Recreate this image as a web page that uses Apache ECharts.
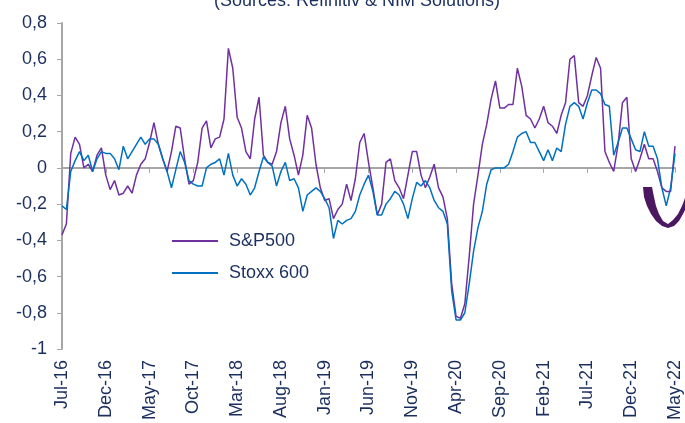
<!DOCTYPE html>
<html><head><meta charset="utf-8">
<script src="https://cdn.jsdelivr.net/npm/echarts@6/dist/echarts.min.js"></script>
<style>html,body{margin:0;padding:0;background:#fff}#c{width:685px;height:423px}</style>
</head><body><div id="c"></div>
<script>
const tickLabels = ['Jul-16','Dec-16','May-17','Oct-17','Mar-18','Aug-18','Jan-19','Jun-19','Nov-19','Apr-20','Sep-20','Feb-21','Jul-21','Dec-21','May-22'];
// half-monthly readings from Jul-16 (month 0) to May-22 (month 70)
const spx = [
-0.37,-0.31,0.08,0.17,0.13,0.00,0.02,-0.02,0.07,0.11,
-0.04,-0.12,-0.07,-0.15,-0.14,-0.10,-0.14,-0.04,0.02,0.05,
0.14,0.25,0.13,0.05,-0.02,0.09,0.23,0.22,0.05,-0.09,
-0.07,0.03,0.22,0.26,0.11,0.16,0.17,0.27,0.66,0.55,
0.28,0.22,0.09,0.05,0.27,0.39,0.07,0.03,0.02,0.09,
0.25,0.34,0.16,0.07,-0.04,0.07,0.29,0.22,0.02,-0.11,
-0.18,-0.17,-0.28,-0.23,-0.20,-0.09,-0.18,-0.06,0.14,0.19,
0.03,-0.11,-0.26,-0.20,0.03,0.05,-0.07,-0.11,-0.17,-0.04,
0.09,0.09,-0.04,-0.11,-0.05,0.02,-0.11,-0.16,-0.28,-0.64,
-0.82,-0.83,-0.75,-0.49,-0.20,-0.04,0.13,0.24,0.38,0.48,
0.33,0.33,0.35,0.35,0.55,0.45,0.29,0.27,0.22,0.27,
0.34,0.25,0.23,0.19,0.29,0.36,0.60,0.62,0.36,0.34,
0.40,0.51,0.61,0.55,0.09,0.03,-0.02,0.13,0.36,0.39,
0.05,-0.02,0.05,0.13,0.05,0.05,-0.02,-0.11,-0.13,-0.13,
0.12];
const stoxx = [
-0.21,-0.23,-0.02,0.04,0.09,0.04,0.07,-0.02,0.05,0.09,
0.08,0.08,0.05,-0.01,0.12,0.05,0.09,0.13,0.17,0.13,
0.16,0.16,0.13,0.05,-0.02,-0.11,-0.01,0.09,0.03,-0.07,
-0.09,-0.10,-0.10,0.00,0.02,0.03,0.05,-0.04,0.08,-0.04,
-0.10,-0.06,-0.09,-0.15,-0.11,-0.02,0.06,0.03,0.01,-0.10,
-0.02,0.03,-0.07,-0.06,-0.11,-0.24,-0.15,-0.13,-0.11,-0.13,
-0.17,-0.22,-0.39,-0.29,-0.31,-0.29,-0.28,-0.24,-0.15,-0.09,
-0.04,-0.13,-0.26,-0.26,-0.20,-0.17,-0.13,-0.15,-0.20,-0.28,
-0.17,-0.08,-0.10,-0.07,-0.11,-0.18,-0.22,-0.24,-0.31,-0.68,
-0.84,-0.84,-0.80,-0.64,-0.46,-0.33,-0.24,-0.09,-0.01,0.00,
0.00,0.00,0.02,0.09,0.17,0.19,0.20,0.14,0.14,0.09,
0.04,0.10,0.04,0.11,0.09,0.24,0.34,0.36,0.34,0.27,
0.36,0.43,0.43,0.41,0.35,0.34,0.07,0.14,0.22,0.22,
0.16,0.10,0.09,0.20,0.12,0.12,0.05,-0.11,-0.21,-0.11,
0.08];
const STEP = 0.5; // months between readings

const FONT = "'Liberation Sans', Arial, sans-serif";
const NAVY = '#1b2f5e';
const GRAY = '#a6a6a6';
const toPairs = arr => arr.map((v, i) => [i * STEP, v]);

const chart = echarts.init(document.getElementById('c'), null, {renderer: 'canvas'});
chart.setOption({
  animation: false,
  backgroundColor: '#fff',
  textStyle: {fontFamily: FONT},
  grid: {left: 62, right: 10, top: 23, bottom: 71, containLabel: false},
  legend: {
    orient: 'vertical', left: 172, top: 232,
    icon: 'rect', itemWidth: 46, itemHeight: 2, itemGap: 14, padding: 0,
    textStyle: {fontSize: 18, color: NAVY, fontFamily: FONT, padding: [0, 0, 0, 6]},
    data: ['S&P500', 'Stoxx 600']
  },
  xAxis: [{
    type: 'value', min: 0, max: 70, interval: 5, position: 'bottom',
    axisLine: {show: true, onZero: true, lineStyle: {color: GRAY, width: 2}},
    axisTick: {show: true, length: 5, lineStyle: {color: GRAY, width: 1}},
    axisLabel: {show: false},
    splitLine: {show: false}
  }, {
    type: 'value', min: 0, max: 70, interval: 5, position: 'bottom',
    axisLine: {show: false, onZero: false},
    axisTick: {show: false},
    splitLine: {show: false},
    axisLabel: {
      show: true, rotate: 90, margin: 11, fontSize: 18, color: NAVY, fontFamily: FONT,
      formatter: v => tickLabels[Math.round(v / 5)] || ''
    }
  }],
  yAxis: {
    type: 'value', min: -1, max: 0.8, interval: 0.2,
    axisLine: {show: true, lineStyle: {color: GRAY, width: 2}},
    axisTick: {show: true, length: 5, lineStyle: {color: GRAY, width: 1}},
    splitLine: {show: false},
    axisLabel: {
      margin: 15, fontSize: 18, color: NAVY, fontFamily: FONT,
      formatter: v => String(Math.round(v * 10) / 10).replace('.', ',')
    }
  },
  series: [{
    name: 'S&P500', type: 'line', xAxisIndex: 0, data: toPairs(spx),
    symbol: 'none', smooth: false,
    lineStyle: {color: '#7030a0', width: 1.5}, itemStyle: {color: '#7030a0'}
  }, {
    name: 'Stoxx 600', type: 'line', xAxisIndex: 0, data: toPairs(stoxx),
    symbol: 'none', smooth: false,
    lineStyle: {color: '#0070c0', width: 1.5}, itemStyle: {color: '#0070c0'}
  }],
  graphic: [{
    type: 'text', x: 357, y: -8,
    style: {text: '(Sources: Refinitiv & NIM Solutions)', font: "18px " + FONT, fill: NAVY, textAlign: 'center', textVerticalAlign: 'top'}
  }, {
    type: 'polygon',
    shape: {points: [[643,187],[644,197],[647,206],[651,214],[656,221],[662,226],[668,228],[674,226],[679,221],[683,214],[685,210],
                     [685,198],[682,206],[678,214],[673,220],[668,224],[663,221],[659,214],[656,206],[654,197],[652,187]]},
    style: {fill: '#4b1760'}
  }]
});
</script>
</body></html>
